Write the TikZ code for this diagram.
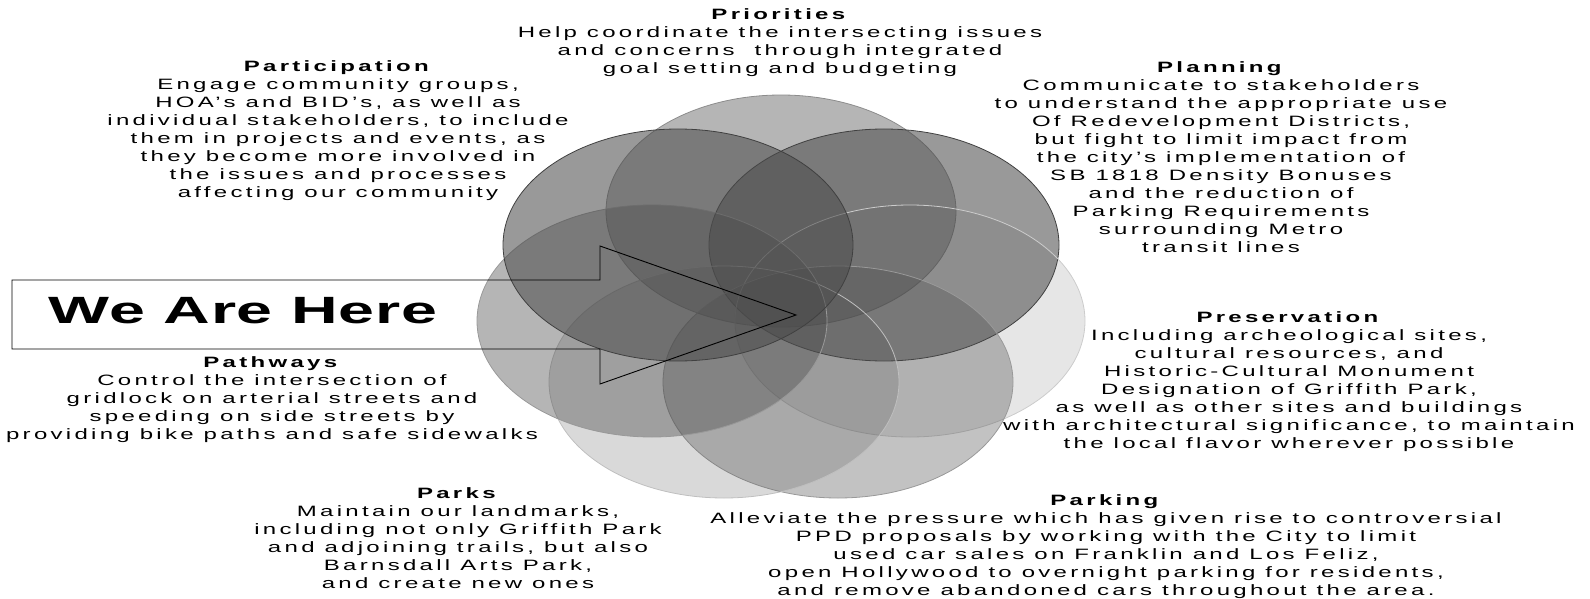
\documentclass[tikz,border=0pt]{standalone}
\usepackage{fontspec}
\setmainfont{Liberation Sans}[FakeStretch=1.6,LetterSpace=22]
\newfontfamily\herefont{Liberation Sans}[FakeStretch=1.7,LetterSpace=2]
\usetikzlibrary{shapes.geometric}

\tikzset{
  petal/.style={ellipse, draw=black!45, fill=black!70, line width=0.8pt,
    minimum width=350pt, minimum height=232pt, inner sep=0pt},
  blurb/.style={align=center, inner sep=0pt,
    font=\fontsize{15}{18}\selectfont},
}

\begin{document}
\begin{tikzpicture}[x=1pt,y=-1pt]
        \useasboundingbox (0,0) rectangle (1590,599);

        % the seven ellipses, clockwise from the top
        \node[petal, fill opacity=.41]                (prio)  at (781,211) {};
        \node[petal, fill opacity=.57, draw=black!75] (plan)  at (884,245) {};
        \node[petal, fill opacity=.14, draw=black!20] (pres)  at (910,321) {};
        \node[petal, fill opacity=.34, draw=black!40] (park)  at (838,382) {};
        \node[petal, fill opacity=.21, draw=black!25] (parks) at (724,382) {};
        \node[petal, fill opacity=.41, draw=black!40] (path)  at (652,321) {};
        \node[petal, fill opacity=.57, draw=black!75] (part)  at (678,245) {};

        % arrow
        \node[font=\herefont\fontsize{38}{40}\bfseries, inner sep=0pt] (here) at (243,311) {We Are Here};
        \draw[line width=0.9pt, line join=miter]
          (12,280) -- (600,280) -- (600,246) -- (796,315) -- (600,384)
          -- (600,349) -- (12,349) -- cycle;

        \node[blurb] (prioText) at (780,43)
          {\textbf{Priorities}\\Help coordinate the intersecting issues\\
           and concerns\ \ through integrated\\goal setting and budgeting};
        \node[blurb] (partText) at (338,131)
          {\textbf{Participation}\\Engage community groups,\\
           HOA's and BID's, as well as\\individual stakeholders, to include\\
           them in projects and events, as\\they become more involved in\\
           the issues and processes\\affecting our community};
        \node[blurb] (planText) at (1221,157)
          {\textbf{Planning}\\Communicate to stakeholders\\
           to understand the appropriate use\\Of Redevelopment Districts,\\
           but fight to limit impact from\\the city's implementation of\\
           SB 1818 Density Bonuses\\and the reduction of\\
           Parking Requirements\\surrounding Metro\\transit lines};
        \node[blurb] (presText) at (1289,382)
          {\textbf{Preservation}\\Including archeological sites,\\
           cultural resources, and\\Historic-Cultural Monument\\
           Designation of Griffith Park,\\as well as other sites and buildings\\
           with architectural significance, to maintain\\
           the local flavor wherever possible};
        \node[blurb] (pathText) at (272,400)
          {\textbf{Pathways}\\Control the intersection of\\
           gridlock on arterial streets and\\speeding on side streets by\\
           providing bike paths and safe sidewalks};
        \node[blurb] (parksText) at (458,538)
          {\textbf{Parks}\\Maintain our landmarks,\\
           including not only Griffith Park\\and adjoining trails, but also\\
           Barnsdall Arts Park,\\and create new ones};
        \node[blurb] (parkText) at (1106,547)
          {\textbf{Parking}\\Alleviate the pressure which has given rise to controversial\\
           PPD proposals by working with the City to limit\\
           used car sales on Franklin and Los Feliz,\\
           open Hollywood to overnight parking for residents,\\
           and remove abandoned cars throughout the area.};

\end{tikzpicture}
\end{document}
